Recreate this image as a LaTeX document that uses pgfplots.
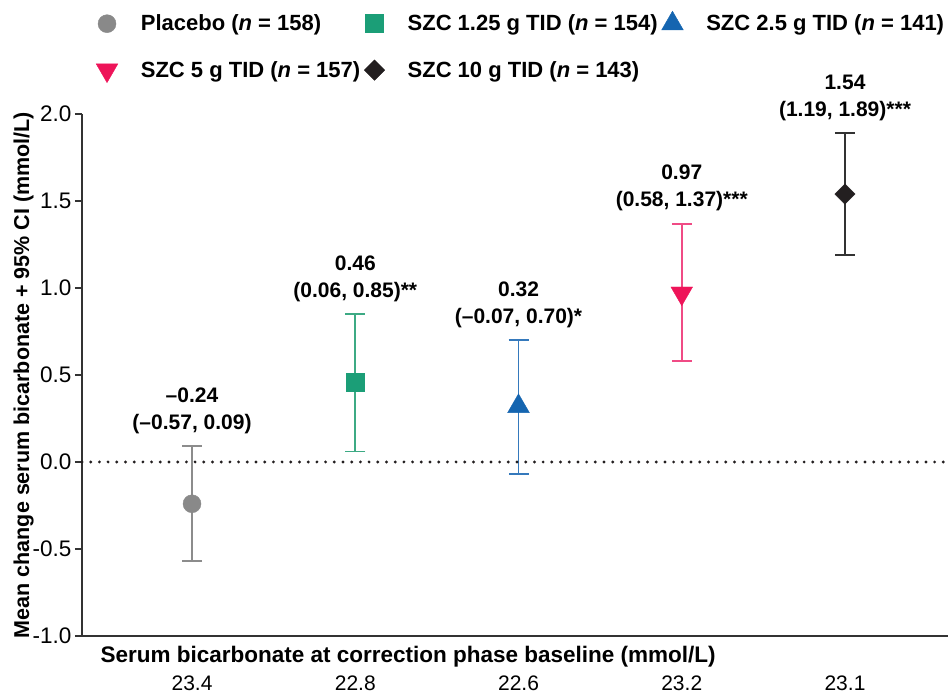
\documentclass[border=0pt]{standalone}
\usepackage{pgfplots}
\pgfplotsset{compat=1.18}
\usepackage{fontspec}
\setmainfont{Liberation Sans}
\definecolor{cgray}{HTML}{898989}
\definecolor{cgrayb}{HTML}{8C8C8C}
\definecolor{cgreen}{HTML}{1B9E77}
\definecolor{cgreenb}{HTML}{3DAA84}
\definecolor{cblue}{HTML}{1565B0}
\definecolor{cblueb}{HTML}{3579BC}
\definecolor{cpink}{HTML}{EE1459}
\definecolor{cpinkb}{HTML}{F04B85}
\definecolor{cblack}{HTML}{231F20}
\definecolor{cblackb}{HTML}{333333}
\newcommand{\fs}{\fontsize{21}{25}\selectfont}
\newcommand{\fy}{\fontsize{22.5}{27}\selectfont}
\newcommand{\fl}{\fontsize{22}{26}\selectfont\bfseries}
\newcommand{\fx}{\fontsize{22.5}{27}\selectfont\bfseries}
\newcommand{\fa}{\fontsize{21}{25}\selectfont\bfseries}
\begin{document}
\begin{tikzpicture}
\begin{axis}[
  at={(0pt,0pt)}, anchor=south west,
  scale only axis, width=866pt, height=522pt,
  xmin=-0.674, xmax=4.631, ymin=-1, ymax=2,
  clip=false,
  axis lines=left, axis line style={-, line width=1.3pt, cblackb},
  xtick={0,1,2,3,4}, xticklabels={23.4,22.8,22.6,23.2,23.1},
  major x tick style={draw=none},
  xticklabel style={font=\fs, anchor=center, yshift=-40pt},
  ytick={-1,-0.5,0,0.5,1,1.5,2},
  yticklabel style={font=\fy, /pgf/number format/.cd, fixed, fixed zerofill, precision=1, assume math mode=true},
  major y tick style={line width=1.3pt, cblackb},
  tick align=outside, major tick length=7pt,
  xlabel={Serum bicarbonate at correction phase baseline (mmol/L)},
  xlabel style={font=\fx, at={(axis description cs:0.0173,-0.0402)}, anchor=west},
  ylabel={Mean change serum bicarbonate + 95\% CI (mmol/L)},
  ylabel style={font=\fontsize{21.5}{26}\selectfont\bfseries, at={(axis description cs:-0.0675,0.5)}, anchor=center},
  legend columns=3,
  legend cell align=left,
  legend image code/.code={\draw[#1] plot coordinates {(0pt,0pt)};},
  legend style={draw=none, fill=none, font=\fl, inner sep=0pt,
    at={(axis description cs:0,1)}, anchor=north west, xshift=14pt, yshift=103pt,
    row sep=25pt,
    /tikz/every odd column/.append style={column sep=21pt},
    /tikz/every even column/.append style={column sep=2pt}},
  error bars/error mark=|,
]
\addplot[only marks, mark=*, mark size=9pt, color=cgray,
  error bars/.cd, y dir=both, y explicit,
  error bar style={line width=1.8pt, cgrayb},
  error mark options={line width=1.8pt, mark size=10pt, cgrayb}]
  coordinates {(0,-0.24) += (0,0.33) -= (0,0.33)};
\addlegendentry{Placebo (\textit{n} = 158)}
\addplot[only marks, mark=square*, mark size=9pt, color=cgreen,
  error bars/.cd, y dir=both, y explicit,
  error bar style={line width=1.8pt, cgreenb},
  error mark options={line width=1.8pt, mark size=10pt, cgreenb}]
  coordinates {(1,0.46) += (0,0.39) -= (0,0.40)};
\addlegendentry{SZC 1.25 g TID (\textit{n} = 154)}
\addplot[only marks, mark=triangle*, mark size=12.5pt, color=cblue,
  error bars/.cd, y dir=both, y explicit,
  error bar style={line width=1.8pt, cblueb},
  error mark options={line width=1.8pt, mark size=10pt, cblueb}]
  coordinates {(2,0.32) += (0,0.38) -= (0,0.39)};
\addlegendentry{SZC 2.5 g TID (\textit{n} = 141)}
\addplot[only marks, mark=triangle*, mark size=12.5pt, mark options={rotate=180}, color=cpink,
  error bars/.cd, y dir=both, y explicit,
  error bar style={line width=1.8pt, cpinkb},
  error mark options={line width=1.8pt, mark size=10pt, cpinkb}]
  coordinates {(3,0.97) += (0,0.40) -= (0,0.39)};
\addlegendentry{SZC 5 g TID (\textit{n} = 157)}
\addplot[only marks, mark=square*, mark size=7.2pt, mark options={rotate=45}, color=cblack,
  error bars/.cd, y dir=both, y explicit,
  error bar style={line width=1.8pt, cblackb},
  error mark options={line width=1.8pt, mark size=10pt, cblackb}]
  coordinates {(4,1.54) += (0,0.35) -= (0,0.35)};
\addlegendentry{SZC 10 g TID (\textit{n} = 143)}
\addplot[forget plot, cblack, line width=3.2pt, line cap=round, dash pattern=on 0pt off 8.7pt]
  coordinates {(-0.674,0) (4.631,0)};
\node[font=\fa, anchor=base] at (axis cs:0,0.09) [yshift=44pt] {--0.24};
\node[font=\fa, anchor=base] at (axis cs:0,0.09) [yshift=17pt] {(--0.57, 0.09)};
\node[font=\fa, anchor=base] at (axis cs:1,0.85) [yshift=44pt] {0.46};
\node[font=\fa, anchor=base] at (axis cs:1,0.85) [yshift=17pt] {(0.06, 0.85)**};
\node[font=\fa, anchor=base] at (axis cs:2,0.70) [yshift=44pt] {0.32};
\node[font=\fa, anchor=base] at (axis cs:2,0.70) [yshift=17pt] {(--0.07, 0.70)*};
\node[font=\fa, anchor=base] at (axis cs:3,1.37) [yshift=44pt] {0.97};
\node[font=\fa, anchor=base] at (axis cs:3,1.37) [yshift=17pt] {(0.58, 1.37)***};
\node[font=\fa, anchor=base] at (axis cs:4,1.89) [yshift=44pt] {1.54};
\node[font=\fa, anchor=base] at (axis cs:4,1.89) [yshift=17pt] {(1.19, 1.89)***};
\end{axis}
\pgfresetboundingbox
\useasboundingbox (-82pt,-57pt) rectangle (866pt,636pt);
\end{tikzpicture}
\end{document}
